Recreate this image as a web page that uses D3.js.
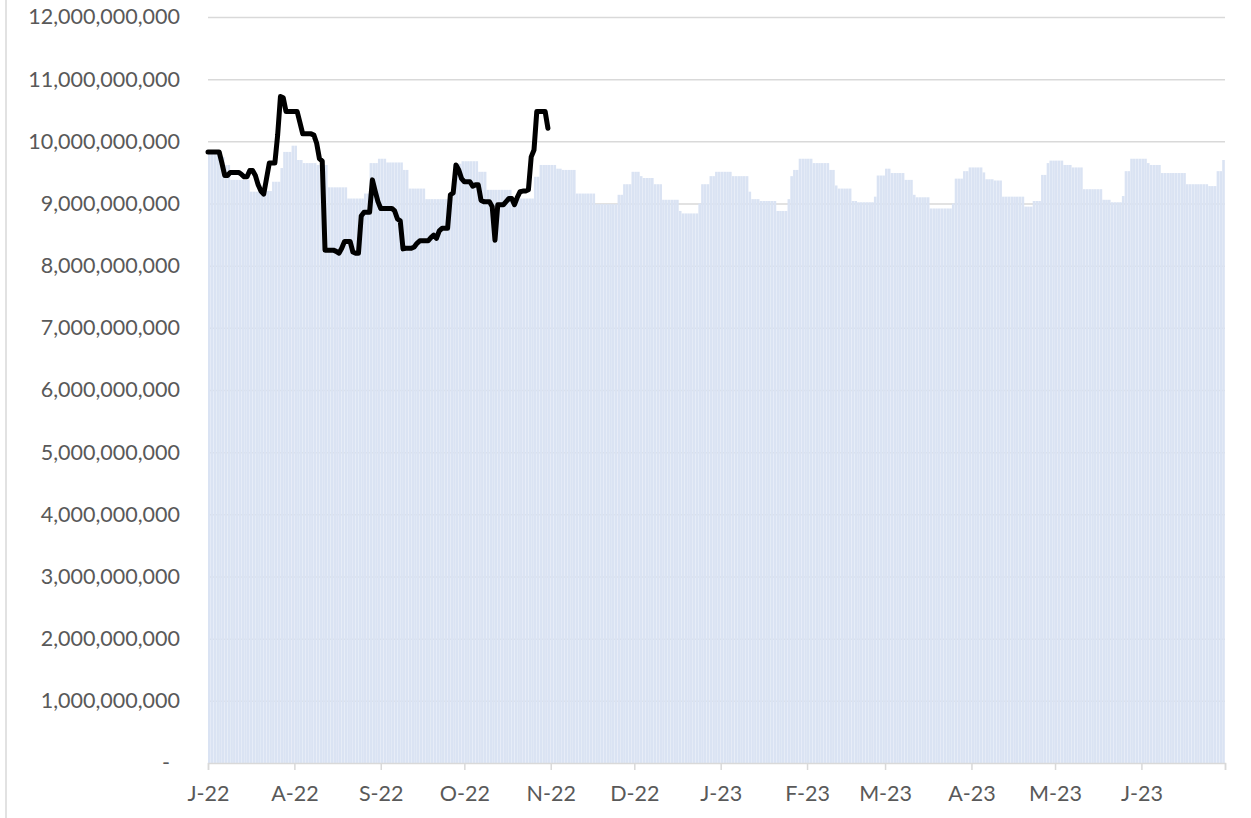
<!DOCTYPE html>
<html>
<head>
<meta charset="utf-8">
<style>
  body { margin: 0; background: #fff; }
  text { font-family: Lato, "Open Sans", sans-serif; fill: #595959; }
</style>
</head>
<body>
<script src="https://d3js.org/d3.v7.min.js"></script>
<svg id="chart" width="1251" height="818"></svg>
<script>
// daily totals, billions (bars), 1 Jul 2022 - 30 Jun 2023
const barValues = [
  9.83, 9.83, 9.83, 9.83, 9.75, 9.75, 9.62, 9.62,
  9.38, 9.38, 9.38, 9.38, 9.38, 9.38, 9.38,
  9.19, 9.19, 9.19, 9.19, 9.20, 9.20, 9.20, 9.20,
  9.35, 9.35, 9.35, 9.57, 9.83, 9.83, 9.83, 9.93, 9.93,
  9.70, 9.70, 9.65, 9.65, 9.65, 9.65, 9.65, 9.62, 9.62, 9.62, 9.62,
  9.26, 9.26, 9.26, 9.26, 9.26, 9.26, 9.26,
  9.08, 9.08, 9.08, 9.08, 9.08, 9.08, 9.16, 9.16,
  9.65, 9.65, 9.65, 9.72, 9.72, 9.72,
  9.66, 9.66, 9.66, 9.66, 9.66, 9.66, 9.54, 9.54,
  9.24, 9.24, 9.24, 9.24, 9.24, 9.24,
  9.07, 9.07, 9.07, 9.07, 9.07, 9.07, 9.07, 9.07, 9.07, 9.07,
  9.64, 9.64, 9.64, 9.68, 9.68, 9.68, 9.68, 9.68, 9.68,
  9.51, 9.51, 9.51,
  9.22, 9.22, 9.22, 9.22, 9.22, 9.22, 9.22, 9.22, 9.22,
  9.08, 9.08, 9.08, 9.08, 9.08, 9.08, 9.08, 9.08,
  9.43, 9.43, 9.62, 9.62, 9.62, 9.62, 9.62, 9.62,
  9.56, 9.56, 9.54, 9.54, 9.54, 9.54, 9.54,
  9.16, 9.16, 9.16, 9.16, 9.16, 9.16, 9.16,
  8.99, 8.99, 8.99, 8.99, 8.99, 8.99, 8.99, 8.99,
  9.14, 9.14, 9.31, 9.31, 9.31, 9.51, 9.51, 9.51, 9.44,
  9.41, 9.41, 9.41, 9.41, 9.31, 9.31, 9.31,
  9.06, 9.06, 9.06, 9.06, 9.06, 9.06, 8.88,
  8.84, 8.84, 8.84, 8.84, 8.84, 8.84, 9.00,
  9.31, 9.31, 9.31, 9.44, 9.44,
  9.51, 9.51, 9.51, 9.51, 9.51, 9.51,
  9.44, 9.44, 9.44, 9.44, 9.44, 9.44, 9.19,
  9.07, 9.07, 9.07, 9.04, 9.04, 9.04, 9.04, 9.04, 9.04,
  8.88, 8.88, 8.88, 8.88, 9.07, 9.44, 9.54, 9.54,
  9.72, 9.72, 9.72, 9.72, 9.72,
  9.65, 9.65, 9.65, 9.65, 9.65, 9.65, 9.54, 9.54, 9.29,
  9.24, 9.24, 9.24, 9.24, 9.24, 9.04, 9.04,
  9.02, 9.02, 9.02, 9.02, 9.02, 9.02, 9.11,
  9.45, 9.45, 9.45, 9.56, 9.56,
  9.49, 9.49, 9.49, 9.49, 9.49, 9.38, 9.38, 9.38, 9.14,
  9.10, 9.10, 9.10, 9.10, 9.10,
  8.92, 8.92, 8.92, 8.92, 8.92, 8.92, 8.92, 8.92, 9.00,
  9.40, 9.40, 9.40, 9.52, 9.52,
  9.58, 9.58, 9.58, 9.58, 9.58, 9.50,
  9.39, 9.39, 9.39, 9.37, 9.37, 9.37,
  9.11, 9.11, 9.11, 9.11, 9.11, 9.11, 9.11, 9.11,
  8.95, 8.95, 8.95, 9.04, 9.04, 9.04, 9.46, 9.46, 9.65,
  9.69, 9.69, 9.69, 9.69, 9.69, 9.62, 9.62, 9.62,
  9.58, 9.58, 9.58, 9.58,
  9.23, 9.23, 9.23, 9.23, 9.23, 9.23, 9.23,
  9.06, 9.06, 9.06, 9.02, 9.02, 9.02, 9.02, 9.12, 9.52, 9.52,
  9.72, 9.72, 9.72, 9.72, 9.72, 9.72, 9.65,
  9.62, 9.62, 9.62, 9.62,
  9.49, 9.49, 9.49, 9.49, 9.49, 9.49, 9.49, 9.49, 9.49,
  9.31, 9.31, 9.31, 9.31, 9.31, 9.31, 9.31, 9.31,
  9.28, 9.28, 9.28, 9.52, 9.52, 9.70
];

// daily actuals, billions (line), 1 Jul 2022 - 31 Oct 2022
const lineValues = [
  9.83, 9.83, 9.83, 9.83, 9.83, 9.65, 9.45, 9.45, 9.50, 9.50,
  9.50, 9.50, 9.47, 9.43, 9.43, 9.53, 9.53, 9.45, 9.30, 9.20,
  9.15, 9.40, 9.65, 9.65, 9.65, 10.10, 10.72, 10.70, 10.48, 10.48,
  10.48, 10.48, 10.48, 10.30, 10.12, 10.12, 10.12, 10.12, 10.10, 9.97,
  9.72, 9.68, 8.25, 8.25, 8.25, 8.25, 8.23, 8.20, 8.28, 8.39,
  8.39, 8.39, 8.22, 8.20, 8.20, 8.80, 8.86, 8.86, 8.86, 9.38,
  9.20, 9.03, 8.92, 8.92, 8.92, 8.92, 8.92, 8.88, 8.75, 8.72,
  8.27, 8.28, 8.28, 8.28, 8.30, 8.36, 8.40, 8.40, 8.40, 8.40,
  8.45, 8.49, 8.44, 8.56, 8.60, 8.60, 8.60, 9.14, 9.17, 9.62,
  9.54, 9.40, 9.35, 9.35, 9.35, 9.28, 9.30, 9.30, 9.05, 9.03,
  9.03, 9.03, 8.95, 8.41, 8.98, 8.98, 8.98, 9.03, 9.08, 9.08,
  8.98, 9.10, 9.19, 9.20, 9.20, 9.22, 9.75, 9.86, 10.48, 10.48,
  10.48, 10.48, 10.21
];

const monthLabels = ['J-22', 'A-22', 'S-22', 'O-22', 'N-22', 'D-22',
                     'J-23', 'F-23', 'M-23', 'A-23', 'M-23', 'J-23'];
const yTicks = [0, 1, 2, 3, 4, 5, 6, 7, 8, 9, 10, 11, 12];

const startDate = new Date(2022, 6, 1);
const endDate = new Date(2023, 6, 1);
const days = d3.timeDay.range(startDate, endDate);

const svg = d3.select('#chart');
const margin = {top: 17, right: 26, bottom: 55, left: 208};
const width = +svg.attr('width');
const height = +svg.attr('height');

const x = d3.scaleTime()
  .domain([startDate, endDate])
  .range([margin.left, width - margin.right]);
const y = d3.scaleLinear()
  .domain([0, 12])
  .range([height - margin.bottom, margin.top]);

// chart frame edge on the left
svg.append('line')
  .attr('x1', 6).attr('x2', 6).attr('y1', 0).attr('y2', height)
  .attr('stroke', '#d9d9d9').attr('stroke-width', 1.5);

// gridlines + y labels
const yAxis = d3.axisLeft(y)
  .tickValues(yTicks)
  .tickSize(-(width - margin.left - margin.right))
  .tickPadding(28)
  .tickFormat(d => d === 0 ? '-' : d3.format(',')(d * 1e9));

const gy = svg.append('g')
  .attr('transform', `translate(${margin.left},0)`)
  .call(yAxis);
gy.select('.domain').remove();
gy.selectAll('.tick line').attr('stroke', '#d9d9d9').attr('stroke-width', 1.5);
gy.selectAll('.tick text').attr('font-size', 21.5).style('font-family', 'Lato').attr('fill', '#595959');
// zero label sits a bit left, like the accounting format
gy.selectAll('.tick').filter(d => d === 0).select('text').attr('dx', -10);
gy.selectAll('.tick').filter(d => d === 0).select('line').remove();

// bars
svg.append('g')
  .selectAll('rect')
  .data(days)
  .join('rect')
  .attr('x', d => x(d))
  .attr('width', d => x(d3.timeDay.offset(d, 1)) - x(d) - 0.2)
  .attr('y', (d, i) => y(barValues[i]))
  .attr('height', (d, i) => y(0) - y(barValues[i]))
  .attr('fill', '#dae3f3');

// x axis
const months = d3.timeMonth.range(startDate, d3.timeDay.offset(endDate, 1));
const xAxis = d3.axisBottom(x)
  .tickValues(months)
  .tickSize(7)
  .tickPadding(16)
  .tickFormat((d, i) => monthLabels[i] || '');

const gx = svg.append('g')
  .attr('transform', `translate(0,${y(0)})`)
  .call(xAxis);
gx.select('.domain').attr('stroke', '#d9d9d9').attr('stroke-width', 1.5);
gx.selectAll('.tick line').attr('stroke', '#d9d9d9').attr('stroke-width', 1.5);
gx.selectAll('.tick text').attr('font-size', 21.5).style('font-family', 'Lato').attr('fill', '#595959');

// line
const line = d3.line()
  .x((d, i) => x(days[i]))
  .y(d => y(d));

svg.append('path')
  .datum(lineValues)
  .attr('d', line)
  .attr('fill', 'none')
  .attr('stroke', '#000')
  .attr('stroke-width', 5)
  .attr('stroke-linejoin', 'round')
  .attr('stroke-linecap', 'round');
</script>
</body>
</html>
